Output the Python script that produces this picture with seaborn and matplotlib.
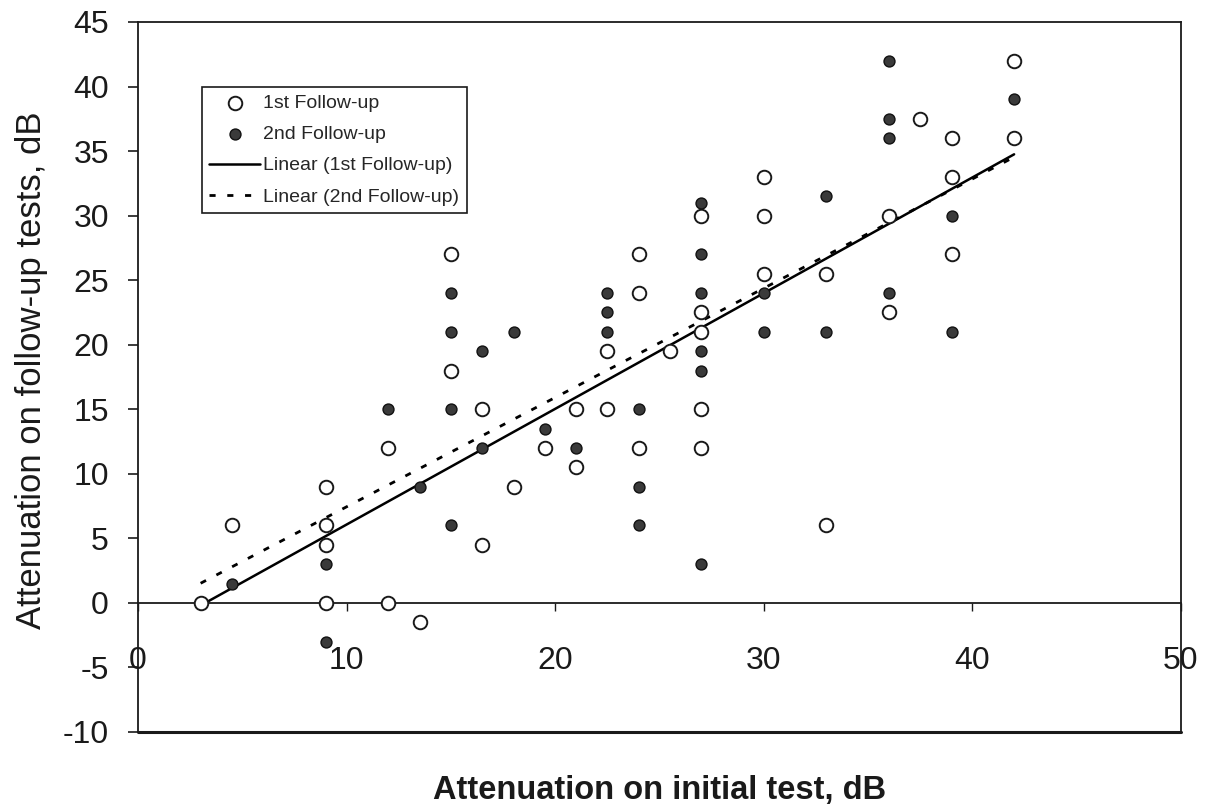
import numpy as np
import matplotlib
matplotlib.use('Agg')
import matplotlib.pyplot as plt
import seaborn as sns

sns.set_theme(style="white")
plt.rcParams['font.family'] = ['Liberation Sans', 'DejaVu Sans']
plt.rcParams['axes.unicode_minus'] = False

# 1st follow-up (open circles)
first_x = [3, 4.5, 9, 9, 9, 9, 12, 12, 13.5, 15, 15, 16.5, 16.5, 18, 19.5,
           21, 21, 22.5, 22.5, 24, 24, 24, 25.5, 27, 27, 27, 27, 27,
           30, 30, 30, 33, 33, 36, 36, 37.5, 39, 39, 39, 42, 42]
first_y = [0, 6, 9, 6, 4.5, 0, 12, 0, -1.5, 27, 18, 15, 4.5, 9, 12,
           15, 10.5, 19.5, 15, 27, 24, 12, 19.5, 30, 22.5, 21, 15, 12,
           33, 30, 25.5, 25.5, 6, 30, 22.5, 37.5, 36, 33, 27, 42, 36]

# 2nd follow-up (filled circles)
second_x = [4.5, 9, 9, 12, 13.5, 15, 15, 15, 15, 16.5, 16.5, 18, 19.5, 21,
            22.5, 22.5, 22.5, 24, 24, 24, 27, 27, 27, 27, 27, 27,
            30, 30, 33, 33, 36, 36, 36, 36, 39, 39, 42]
second_y = [1.5, 3, -3, 15, 9, 24, 21, 15, 6, 19.5, 12, 21, 13.5, 12,
            24, 22.5, 21, 15, 9, 6, 31, 27, 24, 19.5, 18, 3,
            24, 21, 31.5, 21, 42, 37.5, 36, 24, 30, 21, 39]

x_ticks = [0, 10, 20, 30, 40, 50]
y_ticks = [-10, -5, 0, 5, 10, 15, 20, 25, 30, 35, 40, 45]

fig = plt.figure(figsize=(12.12, 8.08), dpi=100)
ax = fig.add_axes([0.1139, 0.0941, 0.8605, 0.8787])

sns.scatterplot(x=first_x, y=first_y, ax=ax, marker='o', s=95,
                facecolor='white', edgecolor='#1a1a1a', linewidth=1.4,
                label='1st Follow-up', zorder=4)
sns.scatterplot(x=second_x, y=second_y, ax=ax, marker='o', s=62,
                facecolor='#3a3a3a', edgecolor='#111111', linewidth=1.0,
                label='2nd Follow-up', zorder=5)

# linear trend lines (least squares), drawn across the range of initial test values
all_x = first_x + second_x
fx = np.array([min(all_x), max(all_x)])
fit1 = np.polyfit(first_x, first_y, 1)
fit2 = np.polyfit(second_x, second_y, 1)
sns.lineplot(x=fx, y=np.polyval(fit1, fx), ax=ax, color='black',
             linewidth=1.8, label='Linear (1st Follow-up)', zorder=3)
sns.lineplot(x=fx, y=np.polyval(fit2, fx), ax=ax, color='black',
             linewidth=2.0, linestyle=(0, (2.2, 4.2)),
             label='Linear (2nd Follow-up)', zorder=3)

ax.set_xlim(x_ticks[0], x_ticks[-1])
ax.set_ylim(y_ticks[0], y_ticks[-1])
ax.set_xticks(x_ticks)
ax.set_yticks(y_ticks)

# x axis crosses at y = 0, plot area keeps a full border
ax.spines['bottom'].set_position(('data', 0))
for side in ['left', 'right', 'top', 'bottom']:
    ax.spines[side].set_color('#1a1a1a')
    ax.spines[side].set_linewidth(1.3)
ax.axhline(y_ticks[0], color='#1a1a1a', linewidth=2.2, clip_on=False)

ax.tick_params(axis='y', left=True, direction='out', length=7, width=1.2,
               pad=14, labelsize=23, labelcolor='#1a1a1a', color='#1a1a1a')
ax.tick_params(axis='x', bottom=True, direction='out', length=6, width=1.0,
               pad=25, labelsize=23, labelcolor='#1a1a1a', color='#1a1a1a')

ax.set_xlabel('Attenuation on initial test, dB', fontsize=23.5,
              fontweight='bold', color='#1a1a1a')
ax.xaxis.set_label_coords(0.5, -0.061)
ax.set_ylabel('Attenuation on follow-up tests, dB', fontsize=25,
              color='#1a1a1a')
ax.yaxis.set_label_coords(-0.086, 0.51)

leg = ax.legend(loc='upper left', bbox_to_anchor=(0.061, 0.909),
                borderaxespad=0, frameon=True, fancybox=False,
                framealpha=1, edgecolor='#1a1a1a', fontsize=14,
                handlelength=2.6, handletextpad=0.15, borderpad=0.4,
                labelspacing=0.7)
leg.get_frame().set_linewidth(1.2)

fig.savefig('out.png', dpi=100, facecolor='white')
